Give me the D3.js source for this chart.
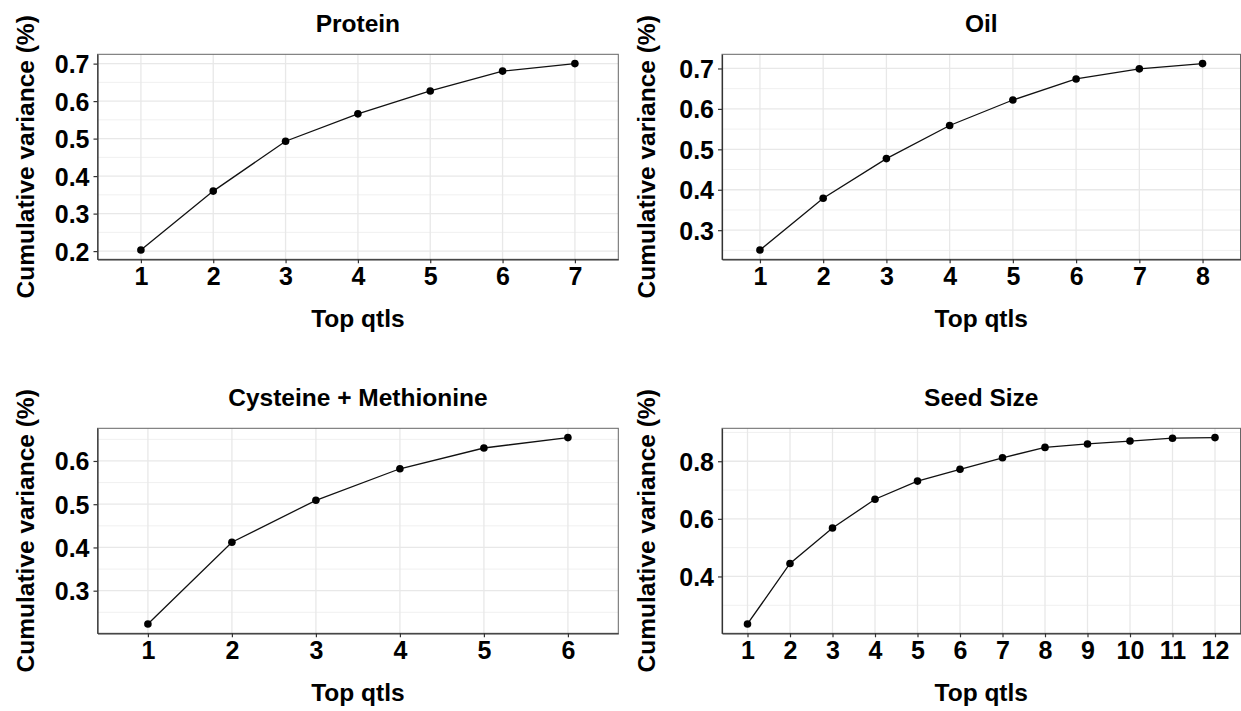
<!DOCTYPE html>
<html>
<head>
<meta charset="utf-8">
<script src="https://cdn.jsdelivr.net/npm/d3@7"></script>
<style>
  body { margin: 0; background: #fff; }
  text { font-family: "Liberation Sans", Arial, sans-serif; font-weight: bold; fill: #000; }
</style>
</head>
<body>
<div class="canva"></div>
<script>

// values
const titles = ["Protein", "Oil", "Cysteine + Methionine", "Seed Size"]

const proteinQtls = [1, 2, 3, 4, 5, 6, 7]
const proteinVar = [0.203, 0.360, 0.493, 0.566, 0.627, 0.680, 0.700]
const proteinTicks = [0.2, 0.3, 0.4, 0.5, 0.6, 0.7]

const oilQtls = [1, 2, 3, 4, 5, 6, 7, 8]
const oilVar = [0.251, 0.379, 0.477, 0.559, 0.622, 0.674, 0.699, 0.712]
const oilTicks = [0.3, 0.4, 0.5, 0.6, 0.7]

const cysMetQtls = [1, 2, 3, 4, 5, 6]
const cysMetVar = [0.223, 0.412, 0.509, 0.582, 0.630, 0.654]
const cysMetTicks = [0.3, 0.4, 0.5, 0.6]

const seedQtls = [1, 2, 3, 4, 5, 6, 7, 8, 9, 10, 11, 12]
const seedVar = [0.235, 0.445, 0.568, 0.668, 0.731, 0.772, 0.812, 0.848, 0.860, 0.870, 0.880, 0.882]
const seedTicks = [0.4, 0.6, 0.8]

const xTitle = "Top qtls"
const yTitle = "Cumulative variance (%)"

// panel boxes (layout only)
const boxes = [
  {x0: 97.5, x1: 618.3, y0: 54.3, y1: 259.3, ytx: 34},
  {x0: 722, x1: 1240.5, y0: 54.3, y1: 259.3, ytx: 655},
  {x0: 97.5, x1: 618.3, y0: 428.3, y1: 633.3, ytx: 34},
  {x0: 722, x1: 1240.5, y0: 428.3, y1: 633.3, ytx: 655}
]

const series = [
  {qtls: proteinQtls, vals: proteinVar, ticks: proteinTicks},
  {qtls: oilQtls, vals: oilVar, ticks: oilTicks},
  {qtls: cysMetQtls, vals: cysMetVar, ticks: cysMetTicks},
  {qtls: seedQtls, vals: seedVar, ticks: seedTicks}
]

const canvas = d3.select('.canva')

const svg = canvas.append("svg")
  .attr("width", 1241).attr("height", 711)

series.forEach((s, i) => {
  const b = boxes[i]
  const g = svg.append("g")

  const x = d3.scalePoint()
    .domain(s.qtls)
    .range([b.x0, b.x1])
    .padding(0.6)

  // ggplot-like 5% expansion
  const lo = d3.min(s.vals), hi = d3.max(s.vals)
  const pad = (hi - lo) * 0.05
  const y = d3.scaleLinear()
    .domain([lo - pad, hi + pad])
    .range([b.y1, b.y0])

  const step = s.ticks[1] - s.ticks[0]
  const minor = []
  s.ticks.forEach(t => {
    [t - step / 2, t + step / 2].forEach(m => {
      m = Math.round(m * 1000) / 1000
      if (m > y.domain()[0] && m < y.domain()[1] && !minor.includes(m)) minor.push(m)
    })
  })

  // grid
  g.selectAll(".minor").data(minor)
    .enter().append("line")
    .attr("x1", b.x0).attr("x2", b.x1)
    .attr("y1", d => y(d)).attr("y2", d => y(d))
    .attr("stroke", "#f0f0f0").attr("stroke-width", 1)

  g.selectAll(".major").data(s.ticks)
    .enter().append("line")
    .attr("x1", b.x0).attr("x2", b.x1)
    .attr("y1", d => y(d)).attr("y2", d => y(d))
    .attr("stroke", "#e8e8e8").attr("stroke-width", 1.3)

  g.selectAll(".vgrid").data(s.qtls)
    .enter().append("line")
    .attr("x1", d => x(d)).attr("x2", d => x(d))
    .attr("y1", b.y0).attr("y2", b.y1)
    .attr("stroke", "#e8e8e8").attr("stroke-width", 1.3)

  // border
  g.append("rect")
    .attr("x", b.x0).attr("y", b.y0)
    .attr("width", b.x1 - b.x0).attr("height", b.y1 - b.y0)
    .attr("fill", "none").attr("stroke", "#666").attr("stroke-width", 1)

  // axes
  const xAxis = d3.axisBottom(x).tickSize(4).tickSizeOuter(0).tickPadding(4)
  const yAxis = d3.axisLeft(y).tickValues(s.ticks).tickSize(4).tickSizeOuter(0).tickPadding(4).tickFormat(d3.format(".1f"))

  const gx = g.append("g").attr("transform", `translate(0,${b.y1})`).call(xAxis)
  const gy = g.append("g").attr("transform", `translate(${b.x0},0)`).call(yAxis)
  ;[gx, gy].forEach(a => {
    a.select(".domain").attr("stroke", "#333").attr("stroke-width", 1.2)
    a.selectAll(".tick line").attr("stroke", "#333").attr("stroke-width", 1.2)
    a.selectAll(".tick text").attr("fill", "#000")
      .style("font-family", '"Liberation Sans", Arial, sans-serif')
      .style("font-weight", "bold").style("font-size", "25px")
  })
  gy.selectAll(".tick text").attr("dy", "0.36em")

  // line + points
  const pts = s.qtls.map((q, k) => ({q: q, v: s.vals[k]}))
  g.append("path").datum(pts)
    .attr("d", d3.line().x(d => x(d.q)).y(d => y(d.v)))
    .attr("fill", "none").attr("stroke", "#111").attr("stroke-width", 1.3)

  g.selectAll("circle").data(pts)
    .enter().append("circle")
    .attr("cx", d => x(d.q)).attr("cy", d => y(d.v))
    .attr("r", 3.8).attr("fill", "#000")

  // titles
  g.append("text").text(titles[i])
    .attr("x", (b.x0 + b.x1) / 2).attr("y", b.y0 - 22.5)
    .attr("text-anchor", "middle").style("font-size", "24.5px")

  g.append("text").text(xTitle)
    .attr("x", (b.x0 + b.x1) / 2).attr("y", b.y1 + 68)
    .attr("text-anchor", "middle").style("font-size", "24.5px")

  g.append("text").text(yTitle)
    .attr("transform", `translate(${b.ytx},${(b.y0 + b.y1) / 2}) rotate(-90)`)
    .attr("text-anchor", "middle").style("font-size", "24.5px")
})

</script>
</body>
</html>
